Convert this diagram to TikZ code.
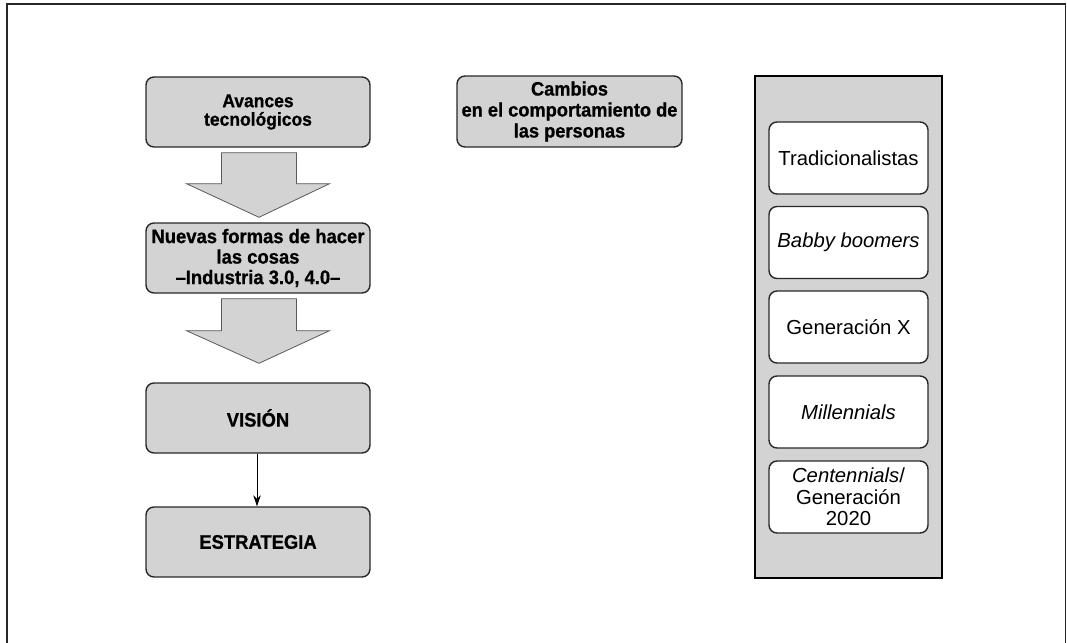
\documentclass[tikz,border=0pt]{standalone}
\usepackage{fontspec}
\setmainfont{Liberation Sans}
% heavier, slightly narrowed bold face for the grey boxes
\newfontfamily\headfont{Liberation Sans Bold}[FakeStretch=0.94,FakeBold=0.8]
\usetikzlibrary{arrows.meta,calc}
\definecolor{boxgray}{RGB}{211,211,211}
\definecolor{edgegray}{RGB}{40,40,40}
\definecolor{arrowedge}{RGB}{90,90,90}
\begin{document}
\begin{tikzpicture}[x=1pt,y=-1pt,
  graybox/.style={draw=edgegray,line width=1.4pt,fill=boxgray,rounded corners=8pt,
    minimum width=224pt,minimum height=70pt,inner sep=0pt,align=center,
    font=\headfont\fontsize{19.6}{20.5}\selectfont},
  genbox/.style={draw=edgegray,line width=1.4pt,fill=white,rounded corners=8pt,
    minimum width=159pt,minimum height=72pt,inner sep=0pt,align=center,
    font=\fontsize{20.3}{21.5}\selectfont},
  panel/.style={draw=black,line width=1.6pt,fill=boxgray,minimum width=187pt,
    minimum height=502pt,inner sep=0pt},
  blockarrow/.style={draw=arrowedge,line width=0.8pt,fill=boxgray,line join=miter},
  thinarrow/.style={draw=black,line width=1pt,-{Stealth[length=11pt,width=7.5pt]}}
]
\useasboundingbox (0,0) rectangle (1067,642);
% outer frame, open at the bottom edge of the page
\begin{scope}
  \clip (0,0) rectangle (1067,642);
  \draw[line width=1.6pt,edgegray] (7,660) -- (7,4) -- (1065.5,4) -- (1065.5,660);
\end{scope}

% left column
\node[graybox,font=\headfont\fontsize{18.6}{18.5}\selectfont] (avances) at (258,112) {Avances\\tecnológicos};
\node[graybox] (nuevas) at (258,258) {Nuevas formas de hacer\\las cosas\\–Industria 3.0, 4.0–};
\node[graybox] (vision) at (258,418) {VISIÓN};
\node[graybox] (estrategia) at (258,542) {ESTRATEGIA};

% centre box
\node[graybox,minimum width=225pt,minimum height=71pt,font=\headfont\fontsize{19.4}{21}\selectfont]
  (cambios) at (569.5,111.5) {Cambios\\en el comportamiento de\\las personas};

% right panel with the generations
\node[panel] (panelgen) at (848.5,327) {};
\node[genbox] (trad) at (848.5,158) {Tradicionalistas};
\node[genbox] (babby) at (848.5,242.5) {\itshape Babby boomers};
\node[genbox] (genx) at (848.5,327) {Generación X};
\node[genbox] (mill) at (848.5,412) {\itshape Millennials};
\node[genbox] (cent) at (848.5,497) {\textit{Centennials}/\\Generación\\2020};

% block arrows between the boxes of the left column
\draw[blockarrow]
  ($(avances.south)+(-36.5,5)$) -- ($(avances.south)+(38.5,5)$) --
  ($(avances.south)+(38.5,36)$) -- ($(avances.south)+(71.5,36)$) --
  ($(nuevas.north)+(1,-5)$) --
  ($(avances.south)+(-71.5,36)$) -- ($(avances.south)+(-36.5,36)$) -- cycle;
\draw[blockarrow]
  ($(nuevas.south)+(-36.5,5)$) -- ($(nuevas.south)+(38.5,5)$) --
  ($(nuevas.south)+(38.5,37)$) -- ($(nuevas.south)+(71.5,37)$) --
  ($(vision.north)+(1,-19)$) --
  ($(nuevas.south)+(-71.5,37)$) -- ($(nuevas.south)+(-36.5,37)$) -- cycle;

% thin arrow
\draw[thinarrow] ($(vision.south)+(-1,0)$) -- ($(estrategia.north)+(-1,0)$);
\end{tikzpicture}
\end{document}
